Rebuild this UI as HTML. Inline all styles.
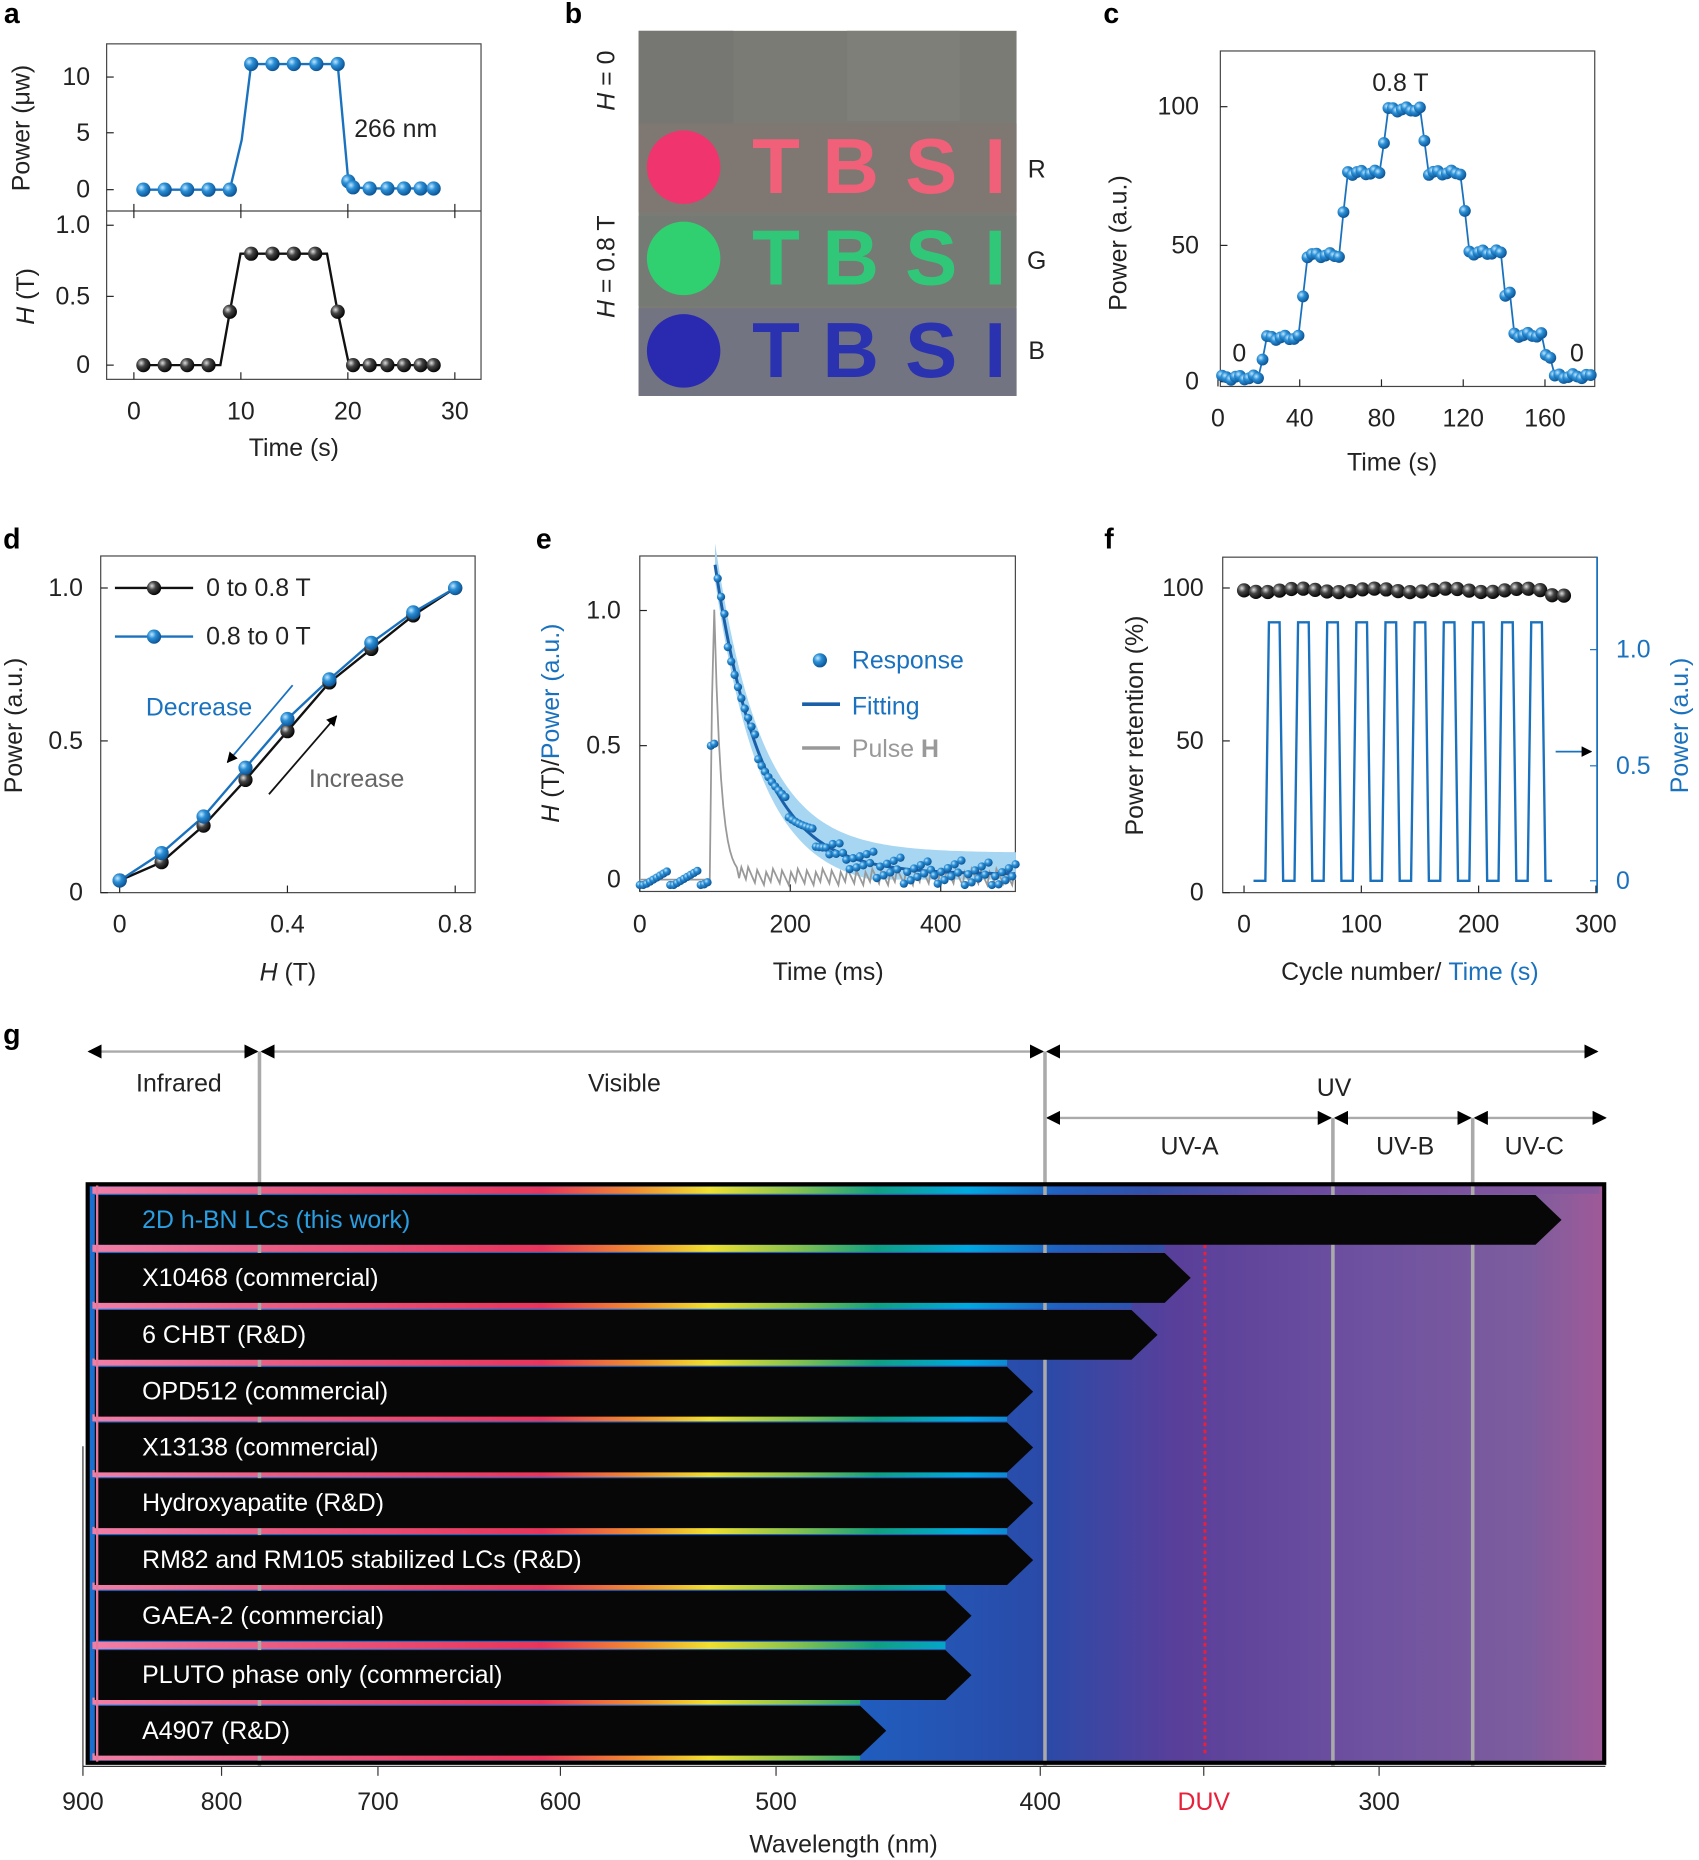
<!DOCTYPE html>
<html><head><meta charset="utf-8"><style>
html,body{margin:0;padding:0;background:#fff}
svg{display:block}
text{font-family:"Liberation Sans",sans-serif}
</style></head><body>
<svg id="s" xmlns="http://www.w3.org/2000/svg" width="1699" height="1860" viewBox="0 0 1434 1569" preserveAspectRatio="none">
<defs>
<radialGradient id="gb" cx="0.35" cy="0.35" r="0.7"><stop offset="0" stop-color="#bfe6ff"/><stop offset="0.4" stop-color="#2a8fd6"/><stop offset="1" stop-color="#0a4f8f"/></radialGradient>
<radialGradient id="gk" cx="0.35" cy="0.35" r="0.7"><stop offset="0" stop-color="#ddd"/><stop offset="0.4" stop-color="#444"/><stop offset="1" stop-color="#000"/></radialGradient>
<linearGradient id="bg" x1="0" x2="1" y1="0" y2="0">
<stop offset="0" stop-color="#1a6fd0"/><stop offset="0.5" stop-color="#1f5fc0"/><stop offset="0.63" stop-color="#2a4aa8"/><stop offset="0.72" stop-color="#5a3f9a"/><stop offset="0.85" stop-color="#6f52a0"/><stop offset="0.95" stop-color="#7d5d9e"/><stop offset="1" stop-color="#a05a98"/></linearGradient>
<linearGradient id="rb" x1="73" x2="1355" y1="0" y2="0" gradientUnits="userSpaceOnUse">
<stop offset="0" stop-color="#f080a8"/><stop offset="0.13" stop-color="#ea5a80"/><stop offset="0.3" stop-color="#e8345a"/><stop offset="0.36" stop-color="#f08a30"/><stop offset="0.41" stop-color="#f0e030"/><stop offset="0.47" stop-color="#80c050"/><stop offset="0.52" stop-color="#10a080"/><stop offset="0.58" stop-color="#00a8e0"/><stop offset="0.64" stop-color="#2060c0"/><stop offset="0.7" stop-color="#3050a8"/><stop offset="0.8" stop-color="#6a4a9e"/><stop offset="1" stop-color="#8a5a9e"/></linearGradient>
<marker id="ah" viewBox="0 0 10 10" refX="9" refY="5" markerWidth="6" markerHeight="6" orient="auto-start-reverse"><path d="M0,0 L10,5 L0,10 z" fill="currentColor"/></marker>
</defs>
</svg>
<script>
const S=document.getElementById('s');const NS='http://www.w3.org/2000/svg';
function el(t,a,txt){const e=document.createElementNS(NS,t);for(const k in a)e.setAttribute(k,a[k]);if(txt!==undefined)e.textContent=txt;S.appendChild(e);return e;}
function T(x,y,s,o={}){return el('text',Object.assign({x:x,y:y,'font-size':o.fs||21,'text-anchor':o.a||'middle','dominant-baseline':'central',fill:o.c||'#222'},o.rot?{transform:`rotate(-90 ${x} ${y})`}:{},o.w?{'font-weight':o.w}:{},o.st?{'font-style':o.st}:{}),s);}
function L(x1,y1,x2,y2,c='#222',w=1,o={}){return el('line',Object.assign({x1,y1,x2,y2,stroke:c,'stroke-width':w},o));}
function P(pts,c,w=2){return el('polyline',{points:pts.map(p=>p.join(',')).join(' '),fill:'none',stroke:c,'stroke-width':w});}
function B(x,y,g,r=6){el('circle',{cx:x,cy:y,r:r,fill:`url(#${g})`});}
function box(x1,y1,x2,y2){el('rect',{x:x1,y:y1,width:x2-x1,height:y2-y1,fill:'none',stroke:'#444','stroke-width':1});}
[['a',10,12],['b',484,12],['c',938,12],['d',10,455],['e',459,455],['f',936,455],['g',10,873]].forEach(l=>T(l[1],l[2],l[0],{w:'bold',fs:24,c:'#000'}));
// ---- panel a
box(90,37,406,320);L(90,178,406,178,'#444');
let ax=t=>113+t*9.03;
[0,10,20,30].forEach(t=>{T(ax(t),347,t);L(ax(t),320,ax(t),314);L(ax(t),178,ax(t),172);L(ax(t),178,ax(t),184);});
T(248,378,'Time (s)');
[[10,65],[5,112],[0,160]].forEach(a=>{T(76,a[1],a[0],{a:'end'});L(90,a[1],96,a[1]);});
T(18,108,'Power (μw)',{rot:1});T(334,109,'266 nm');
let pa=[[121,160],[139,160],[158,160],[176,160],[194,160],[204,118],[212,54],[230,54],[248,54],[267,54],[285,54],[294,153],[298,158],[312,159],[327,159],[341,159],[355,159],[366,159]];
P(pa,'#1a72bf');pa.forEach(p=>{if(p[0]!=204)B(p[0],p[1],'gb');});
[[1.0,190],[0.5,250],[0,308]].forEach(a=>{T(76,a[1],a[0]==1?'1.0':a[0],{a:'end'});L(90,a[1],96,a[1]);});
el('text',{x:22,y:250,'font-size':21,'text-anchor':'middle','dominant-baseline':'central',fill:'#222',transform:'rotate(-90 22 250)'}).innerHTML='<tspan font-style="italic">H</tspan> (T)';
let ha=[[121,308],[139,308],[158,308],[176,308],[186,308],[194,263],[203,214],[212,214],[230,214],[248,214],[266,214],[276,214],[285,263],[294,305],[298,308],[312,308],[327,308],[341,308],[355,308],[366,308]];
P(ha,'#111');[[121,308],[139,308],[158,308],[176,308],[194,263],[212,214],[230,214],[248,214],[266,214],[285,263],[298,308],[312,308],[327,308],[341,308],[355,308],[366,308]].forEach(p=>B(p[0],p[1],'gk'));
// ---- panel b
el('rect',{x:539,y:26,width:319,height:308,fill:'#7b7b76'});
el('rect',{x:539,y:26,width:80,height:80,fill:'#767672'});el('rect',{x:715,y:26,width:95,height:76,fill:'#7f7f7a'});
el('rect',{x:539,y:104,width:319,height:75,fill:'#7f7772'});el('rect',{x:539,y:182,width:319,height:76,fill:'#767a74'});el('rect',{x:539,y:260,width:319,height:74,fill:'#727482'});
[['#f0356e','#f06078',141],['#30d070','#30c878',218],['#2a2ab0','#2a32b0',296]].forEach(r=>{
 el('circle',{cx:577,cy:r[2],r:31,fill:r[0]});
 [['T',655],['B',718],['S',786],['I',840]].forEach(q=>el('text',{x:q[1],y:r[2]+22,'font-size':66,'font-weight':'bold','text-anchor':'middle',fill:r[1],'font-family':'Liberation Sans'},q[0]));
});
T(875,143,'R');T(875,220,'G');T(875,296,'B');
el('text',{x:512,y:68,'font-size':21,'text-anchor':'middle','dominant-baseline':'central',fill:'#222',transform:'rotate(-90 512 68)'}).innerHTML='<tspan font-style="italic">H</tspan> = 0';
el('text',{x:512,y:225,'font-size':21,'text-anchor':'middle','dominant-baseline':'central',fill:'#222',transform:'rotate(-90 512 225)'}).innerHTML='<tspan font-style="italic">H</tspan> = 0.8 T';
// ---- panel c
box(1030,43,1346,326);
let cx=t=>1028+t*1.725,cy=v=>322-v*2.32;
[0,40,80,120,160].forEach(t=>{T(cx(t),353,t);L(cx(t),326,cx(t),320);});
[[100,90],[50,207],[0,322]].forEach(a=>{T(1012,a[1],a[0],{a:'end'});L(1030,a[1],1036,a[1]);});
T(944,205,'Power (a.u.)',{rot:1});T(1175,390,'Time (s)');T(1182,70,'0.8 T');T(1046,298,'0');T(1331,298,'0');
let lev=[1.5,16,46,76,99,76,47,17,2];let cp=[];
for(let t=2;t<=184;t+=2.2){let i=Math.min(8,Math.floor(t/20));let f=t-i*20;let v=lev[i];if(f<3&&i>0){v=lev[i-1]+(lev[i]-lev[i-1])*0.5;}v+=Math.sin(t*3.7)*0.8;cp.push([cx(t),cy(v)]);}
P(cp,'#1a72bf',1.5);cp.forEach(p=>B(p[0],p[1],'gb',5));
// ---- panel d
box(85,469,401,753);
let dx=h=>101+h*354,dy=v=>753-v*257;
[[0,'0'],[0.4,'0.4'],[0.8,'0.8']].forEach(a=>{T(dx(a[0]),780,a[1]);L(dx(a[0]),753,dx(a[0]),747);});
[[1,'1.0',496],[0.5,'0.5',625],[0,'0',753]].forEach(a=>{T(70,a[2],a[1],{a:'end'});L(85,a[2],91,a[2]);});
T(12,612,'Power (a.u.)',{rot:1});
el('text',{x:243,y:827,'font-size':21,'text-anchor':'middle',fill:'#222'}).innerHTML='<tspan font-style="italic">H</tspan> (T)';
let db=[0.04,0.1,0.22,0.37,0.53,0.69,0.8,0.91,1.0],dbl=[0.04,0.13,0.25,0.41,0.57,0.7,0.82,0.92,1.0];
P(db.map((v,i)=>[dx(i*0.1),dy(v)]),'#111');P(dbl.map((v,i)=>[dx(i*0.1),dy(v)]),'#1a72bf');
db.forEach((v,i)=>B(dx(i*0.1),dy(v),'gk'));dbl.forEach((v,i)=>B(dx(i*0.1),dy(v),'gb'));
L(97,496,163,496,'#111',2);B(130,496,'gk');T(174,496,'0 to 0.8 T',{a:'start'});
L(97,537,163,537,'#1a72bf',2);B(130,537,'gb');T(174,537,'0.8 to 0 T',{a:'start'});
T(168,597,'Decrease',{c:'#1a72bf'});T(301,657,'Increase',{c:'#666'});
L(247,578,192,643,'#1a72bf',1.5,{'marker-end':'url(#ah)',color:'#1a72bf'});
L(227,670,284,604,'#111',1.5,{'marker-end':'url(#ah)',color:'#111'});
// ---- panel e
box(540,469,857,752);
let ex=t=>540+t*0.635,ey=v=>742-v*227;
[0,200,400].forEach(t=>{T(ex(t),780,t);L(ex(t),752,ex(t),746);});
[[1.0,'1.0',515],[0.5,'0.5',629],[0,'0',742]].forEach(a=>{T(524,a[2],a[1],{a:'end'});L(540,a[2],546,a[2]);});
el('text',{x:465,y:610,'font-size':21,'text-anchor':'middle','dominant-baseline':'central',fill:'#222',transform:'rotate(-90 465 610)'}).innerHTML='<tspan font-style="italic">H</tspan> (T)/<tspan fill="#1a72bf">Power (a.u.)</tspan>';
T(699,820,'Time (ms)');
let fit=t=>t<100?0:0.02+1.15*Math.exp(-(t-100)/62);
let up=[],lo=[];for(let t=100;t<=500;t+=4){up.push([ex(t),ey(fit(t)+0.08)]);lo.push([ex(t),ey(Math.max(0,fit(t)-0.06))]);}
el('polygon',{points:up.concat(lo.reverse()).map(p=>p.join(',')).join(' '),fill:'#a6d6f2'});
let gp=[];for(let t=0;t<=500;t+=3){let v=t<93?0:(t<98?1.12*(t-93)/5:0.01+1.11*Math.exp(-(t-98)/9));v+=(t>130?((t*7919)%11-5)*0.006:0);gp.push([ex(t),ey(v)]);}
P(gp,'#999',1.5);
let fl=[];for(let t=100;t<=500;t+=3)fl.push([ex(t),ey(fit(t))]);P(fl,'#1a5fa8',2.5);
for(let t=0;t<=500;t+=4.5){let v=t<95?0.0:fit(t);if(t>=92&&t<100)v=0.5;let n=((t*7211)%13-6)*0.005;if(t>250)n+=((t*31)%3-1)*0.025;B(ex(t),ey(Math.max(-0.02,v+n)),'gb',3.5);}
B(692,557,'gb',6);T(719,557,'Response',{a:'start',c:'#1a72bf'});
L(677,594,709,594,'#1a5fa8',3);T(719,596,'Fitting',{a:'start',c:'#1a72bf'});
L(677,631,709,631,'#999',3);el('text',{x:719,y:632,'font-size':21,'dominant-baseline':'central',fill:'#999'}).innerHTML='Pulse <tspan font-weight="bold">H</tspan>';
// ---- panel f
box(1032,470,1348,753);L(1348,470,1348,753,'#1a72bf',1.5);
let fx=t=>1050+t*0.99;
[0,100,200,300].forEach(t=>{T(fx(t),780,t);L(fx(t),753,fx(t),747);});
[[100,496],[50,625],[0,753]].forEach(a=>{T(1016,a[1],a[0],{a:'end'});L(1032,a[1],1038,a[1]);});
[['1.0',548],['0.5',646],['0',743]].forEach(a=>{T(1364,a[1],a[0],{a:'start',c:'#1a72bf'});L(1342,a[1],1348,a[1],'#1a72bf');});
T(958,612,'Power retention (%)',{rot:1});T(1418,612,'Power (a.u.)',{rot:1,c:'#1a72bf'});
el('text',{x:1190,y:820,'font-size':21,'text-anchor':'middle','dominant-baseline':'central',fill:'#222'}).innerHTML='Cycle number/ <tspan fill="#1a72bf">Time (s)</tspan>';
L(1313,634,1343,634,'#1a72bf',1.5,{'marker-end':'url(#ah)',color:'#1a72bf'});
let sq=[[1058,743]];for(let i=0;i<10;i++){let x0=1068+i*24.6;sq.push([x0,743],[x0+3,525],[x0+12,525],[x0+15,743]);}sq.push([1310,743]);P(sq,'#1a72bf',2);
for(let i=0;i<28;i++){B(1050+i*10,498+Math.sin(i)*1.5+(i>25?3:0),'gk');}
// ---- panel g
const gc='#aaa';
L(75,887,217,887,gc,2,{'marker-start':'url(#ah)','marker-end':'url(#ah)',color:gc});
L(221,887,880,887,gc,2,{'marker-start':'url(#ah)','marker-end':'url(#ah)',color:gc});
L(884,887,1348,887,gc,2,{'marker-start':'url(#ah)','marker-end':'url(#ah)',color:gc});
L(884,943,1123,943,gc,2,{'marker-start':'url(#ah)','marker-end':'url(#ah)',color:gc});
L(1127,943,1241,943,gc,2,{'marker-start':'url(#ah)','marker-end':'url(#ah)',color:gc});
L(1245,943,1355,943,gc,2,{'marker-start':'url(#ah)','marker-end':'url(#ah)',color:gc});
T(151,914,'Infrared');T(527,914,'Visible');T(1126,918,'UV');T(1004,967,'UV-A');T(1186,967,'UV-B');T(1295,967,'UV-C');
el('rect',{x:74,y:999,width:1280,height:488,fill:'url(#bg)'});
const rows=[['2D h-BN LCs (this work)',1318],['X10468 (commercial)',1005],['6 CHBT (R&D)',977],['OPD512 (commercial)',872],['X13138 (commercial)',872],['Hydroxyapatite (R&D)',872],['RM82 and RM105 stabilized LCs (R&D)',872],['GAEA-2 (commercial)',820],['PLUTO phase only (commercial)',820],['A4907 (R&D)',748]];
const ys=[1029,1078,1126,1174,1221,1268,1316,1363,1413,1460];
for(let i=0;i<11;i++){let y=(i<10?ys[i]-26:1481);let xe=i==0?1350:(i<10?rows[i][1]-22:rows[9][1]-22);el('rect',{x:78,y:y-2,width:xe-78,height:6,fill:'url(#rb)'});}
L(219,887,219,1490,gc,3);L(882,887,882,1490,gc,3);L(1125,943,1125,1490,gc,3);L(1243,943,1243,1490,gc,3);
L(1017,1050,1017,1480,'#e8203a',2.5,{'stroke-dasharray':'3,3'});
rows.forEach((r,i)=>{let y=ys[i],h=21,tip=r[1],b=tip-22;
 el('polygon',{points:`80,${y-h} ${b},${y-h} ${tip},${y} ${b},${y+h} 80,${y+h}`,fill:'#070707'});
 T(120,y,r[0],{a:'start',c:i==0?'#2a9ee0':'#fff',fs:21});});
el('rect',{x:74,y:999,width:1280,height:488,fill:'none',stroke:'#000','stroke-width':3.5});
L(82,1000,82,1486,'#e8789a',2);
L(70,1490,1355,1490,'#333',1);L(70,1220,70,1490,'#333',1);
[[900,70],[800,187],[700,319],[600,473],[500,655],[400,878],['DUV',1016],[300,1164]].forEach(a=>{L(a[1],1490,a[1],1498,'#333');T(a[1],1520,a[0],{c:a[0]=='DUV'?'#e8203a':'#222'});});
T(712,1556,'Wavelength (nm)');
</script>
</body></html>
